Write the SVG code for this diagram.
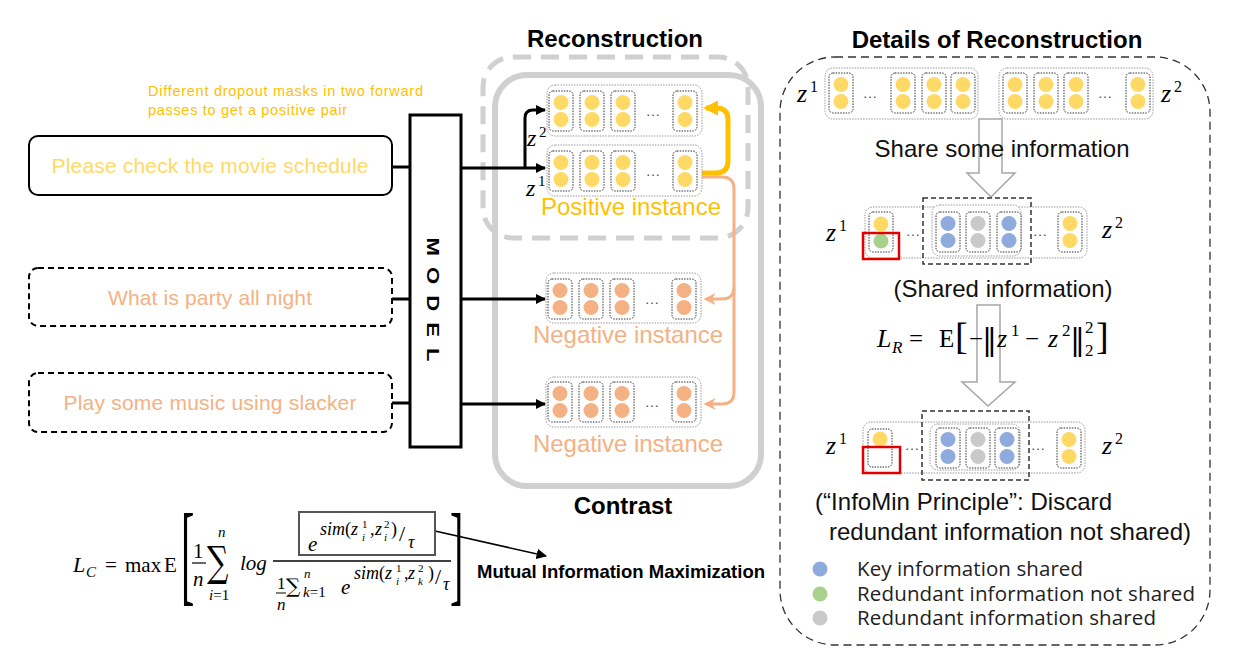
<svg xmlns="http://www.w3.org/2000/svg" xmlns:xlink="http://www.w3.org/1999/xlink" width="1240" height="670" viewBox="0 0 1240 670">
<style>
text{font-family:"Liberation Sans",Arial,sans-serif}
.m{font-family:"Liberation Serif","DejaVu Serif",serif;font-style:italic}
.r{font-family:"Liberation Serif","DejaVu Serif",serif;font-style:normal}
.dj{font-family:"DejaVu Serif",serif;font-style:normal}
.up{font-style:normal}
.b{font-weight:bold;fill:#000}
.cell{fill:#fff;stroke:#333;stroke-width:1;stroke-dasharray:1.5 1.2}
.row{fill:#fff;stroke:#999;stroke-width:1;stroke-dasharray:1.5 1.2}
.dash{fill:none;stroke:#333;stroke-width:1.5;stroke-dasharray:5 3}
.yc{fill:#FFD966}.oc{fill:#F4B183}.bc{fill:#8FAADC}.gc{fill:#C9C9C9}.grc{fill:#A9D18E}
.dots{font-size:15px;fill:#555;text-anchor:middle}
.conn{fill:none;stroke:#000;stroke-width:3}
.hollow{fill:#fff;stroke:#A6A6A6;stroke-width:1.5}
.red{fill:none;stroke:#E00000;stroke-width:2.5}
.rt{font-size:24px;fill:#111;text-anchor:middle}
.leg{font-family:"Open Sans","Noto Sans",sans-serif;font-size:20.5px;fill:#222}
</style>
<defs>
<marker id="ahB" viewBox="0 0 10 10" refX="9" refY="5" markerWidth="3.4" markerHeight="3.4" orient="auto"><path d="M0,0 L10,5 L0,10 z" fill="#000"/></marker>
<marker id="ahY" viewBox="0 0 10 10" refX="8" refY="5" markerWidth="3" markerHeight="3" orient="auto"><path d="M0,0 L10,5 L0,10 z" fill="#FFC000"/></marker>
<marker id="ahO" viewBox="0 0 10 10" refX="8" refY="5" markerWidth="4" markerHeight="4" orient="auto"><path d="M0,0 L10,5 L0,10 L3,5 z" fill="#F4B183"/></marker>
<marker id="ahT" viewBox="0 0 10 10" refX="9" refY="5" markerWidth="7" markerHeight="7" orient="auto"><path d="M0,0 L10,5 L0,10 z" fill="#000"/></marker>
<g id="cY"><rect class="cell" x="0" y="0" width="24" height="40" rx="4"/><circle class="yc" cx="12" cy="11.5" r="7.5"/><circle class="yc" cx="12" cy="28.5" r="7.5"/></g>
<g id="cO"><rect class="cell" x="0" y="0" width="24" height="40" rx="4"/><circle class="oc" cx="12" cy="11.5" r="7.5"/><circle class="oc" cx="12" cy="28.5" r="7.5"/></g>
<g id="cB"><rect class="cell" x="0" y="0" width="24" height="40" rx="4"/><circle class="bc" cx="12" cy="11.5" r="7.5"/><circle class="bc" cx="12" cy="28.5" r="7.5"/></g>
<g id="cG"><rect class="cell" x="0" y="0" width="24" height="40" rx="4"/><circle class="gc" cx="12" cy="11.5" r="7.5"/><circle class="gc" cx="12" cy="28.5" r="7.5"/></g>
</defs>
<rect width="1240" height="670" fill="#fff"/>

<!-- containers -->
<g id="contrast-box">
<rect x="495" y="75" width="266" height="411" rx="32" fill="none" stroke="#D0D0D0" stroke-width="6"/>
<text class="b" x="623" y="514" font-size="24" text-anchor="middle">Contrast</text>
</g>
<g id="reconstruction-box">
<rect x="483" y="57" width="265" height="181" rx="30" fill="none" stroke="#D0D0D0" stroke-width="5" stroke-dasharray="18 10"/>
<text class="b" x="615" y="47" font-size="24" text-anchor="middle">Reconstruction</text>
</g>

<!-- inputs -->
<g id="input1">
<rect x="29" y="136" width="363" height="59" rx="9" fill="#fff" stroke="#000" stroke-width="2"/>
<text x="210" y="173" font-size="21" fill="#FFD966" text-anchor="middle" textLength="317">Please check the movie schedule</text>
</g>
<g id="input2">
<rect x="29" y="268" width="363" height="58" rx="9" fill="#fff" stroke="#000" stroke-width="2" stroke-dasharray="6 4"/>
<text x="210" y="305" font-size="21" fill="#F4B183" text-anchor="middle" textLength="204">What is party all night</text>
</g>
<g id="input3">
<rect x="29" y="373" width="363" height="59" rx="9" fill="#fff" stroke="#000" stroke-width="2" stroke-dasharray="6 4"/>
<text x="210" y="410" font-size="21" fill="#F4B183" text-anchor="middle" textLength="293">Play some music using slacker</text>
</g>
<g id="dropout-note">
<text x="148" y="96" font-size="14.5" fill="#FFC000" textLength="275">Different dropout masks in two forward</text>
<text x="148" y="115" font-size="14.5" fill="#FFC000" textLength="199">passes to get a positive pair</text>
</g>

<!-- connectors -->
<g id="connectors">
<path class="conn" d="M392,167 H410"/>
<path class="conn" d="M392,299 H410"/>
<path class="conn" d="M392,403 H410"/>
<path class="conn" d="M461,168 H545" marker-end="url(#ahB)"/>
<path class="conn" d="M525,168 V118 Q525,110 533,110 H545" marker-end="url(#ahB)"/>
<path class="conn" d="M461,299 H545" marker-end="url(#ahB)"/>
<path class="conn" d="M461,404 H545" marker-end="url(#ahB)"/>
<path d="M702,173 H716 Q728,173 728,161 V119 Q728,108 716,108 H706" fill="none" stroke="#FFC000" stroke-width="5" marker-end="url(#ahY)"/>
<path d="M702,177 H722 Q734,177 734,189 V392 Q734,404 722,404 H706" fill="none" stroke="#F4B183" stroke-width="3" marker-end="url(#ahO)"/>
<path d="M734,287 Q734,299 722,299 H706" fill="none" stroke="#F4B183" stroke-width="3" marker-end="url(#ahO)"/>
<path d="M435,531 L546,556" fill="none" stroke="#000" stroke-width="1.5" marker-end="url(#ahT)"/>
</g>

<g id="model">
<rect x="410" y="115" width="51" height="332" fill="#fff" stroke="#000" stroke-width="3"/>
<text class="b" font-size="17" text-anchor="middle" letter-spacing="8.5" transform="translate(427,305) rotate(90) scale(1.3,1)">MODEL</text>
</g>

<!-- positive instance -->
<g id="z2-row">
<rect class="row" x="547" y="85" width="155" height="51" rx="8"/>
<use xlink:href="#cY" x="549" y="91"/><use xlink:href="#cY" x="580" y="91"/><use xlink:href="#cY" x="611" y="91"/><use xlink:href="#cY" x="673" y="91"/>
<text class="dots" x="653" y="116">…</text>
<text class="m" x="527" y="146" font-size="24">z</text><text class="r" x="539" y="137" font-size="15">2</text>
</g>
<g id="z1-row">
<rect class="row" x="547" y="145" width="155" height="51" rx="8"/>
<use xlink:href="#cY" x="549" y="151"/><use xlink:href="#cY" x="580" y="151"/><use xlink:href="#cY" x="611" y="151"/><use xlink:href="#cY" x="673" y="151"/>
<text class="dots" x="653" y="176">…</text>
<text class="m" x="526" y="196" font-size="24">z</text><text class="r" x="538" y="186" font-size="15">1</text>
<text x="631" y="215" font-size="24" fill="#FFC000" text-anchor="middle" textLength="180">Positive instance</text>
</g>
<g id="negative1">
<rect class="row" x="546" y="273" width="155" height="50" rx="8"/>
<use xlink:href="#cO" x="548" y="279"/><use xlink:href="#cO" x="579" y="279"/><use xlink:href="#cO" x="610" y="279"/><use xlink:href="#cO" x="672" y="279"/>
<text class="dots" x="652" y="304">…</text>
<text x="628" y="343" font-size="24" fill="#F4B183" text-anchor="middle" textLength="190">Negative instance</text>
</g>
<g id="negative2">
<rect class="row" x="546" y="377" width="155" height="50" rx="8"/>
<use xlink:href="#cO" x="548" y="382"/><use xlink:href="#cO" x="579" y="382"/><use xlink:href="#cO" x="610" y="382"/><use xlink:href="#cO" x="672" y="382"/>
<text class="dots" x="652" y="407">…</text>
<text x="628" y="452" font-size="24" fill="#F4B183" text-anchor="middle" textLength="190">Negative instance</text>
</g>

<!-- contrastive formula -->
<g id="formula-LC">
<text class="m" x="73" y="572" font-size="22">L</text><text class="m" x="86" y="577" font-size="15">C</text>
<text class="r" x="105" y="572" font-size="21">=</text>
<text class="r" x="125" y="572" font-size="21">max</text>
<text class="r" x="164" y="572" font-size="21">E</text>
<text class="r" font-size="40" transform="translate(181,591) scale(1,2.8)">[</text>
<text class="r" x="193" y="558" font-size="21">1</text>
<line x1="192" y1="563" x2="206" y2="563" stroke="#000" stroke-width="1.2"/>
<text class="m" x="193" y="586" font-size="21">n</text>
<text class="dj" font-size="30" transform="translate(207,576) scale(1,1.4)">∑</text>
<text class="m" x="218" y="537" font-size="15">n</text>
<text class="m" x="209" y="600" font-size="15">i<tspan class="up">=1</tspan></text>
<text class="m" x="240" y="570" font-size="21">log</text>
<line x1="273" y1="561" x2="451" y2="561" stroke="#000" stroke-width="1.3"/>
<rect x="299" y="512" width="136" height="43" fill="none" stroke="#555" stroke-width="2"/>
<text class="m" x="308" y="551" font-size="21">e</text>
<text class="m" font-size="18"><tspan x="320" y="535">sim</tspan><tspan class="up">(</tspan><tspan>z</tspan><tspan class="up" x="362" y="528" font-size="11">1</tspan><tspan x="362" y="541" font-size="11">i</tspan><tspan class="up" x="370" y="535">,</tspan><tspan x="375" y="535">z</tspan><tspan class="up" x="384" y="528" font-size="11">2</tspan><tspan x="384" y="541" font-size="11">i</tspan><tspan class="up" x="391" y="535">)</tspan><tspan class="up" x="399" y="541" font-size="22">/</tspan><tspan x="408" y="548">τ</tspan></text>
<text class="r" x="277" y="589" font-size="17">1</text>
<line x1="276" y1="593" x2="286" y2="593" stroke="#000" stroke-width="1"/>
<text class="m" x="277" y="610" font-size="17">n</text>
<text class="dj" x="286" y="593" font-size="20">∑</text>
<text class="m" x="304" y="578" font-size="13">n</text>
<text class="m" x="303" y="597" font-size="15">k<tspan class="up">=1</tspan></text>
<text class="m" x="341" y="594" font-size="21">e</text>
<text class="m" font-size="18"><tspan x="354" y="579">sim</tspan><tspan class="up">(</tspan><tspan>z</tspan><tspan class="up" x="396" y="572" font-size="11">1</tspan><tspan x="396" y="585" font-size="11">i</tspan><tspan class="up" x="404" y="579">,</tspan><tspan x="408" y="579">z</tspan><tspan class="up" x="418" y="572" font-size="11">2</tspan><tspan x="418" y="585" font-size="11">k</tspan><tspan class="up" x="428" y="579">)</tspan><tspan class="up" x="435" y="584" font-size="22">/</tspan><tspan x="443" y="590">τ</tspan></text>
<text class="r" font-size="40" transform="translate(450,591) scale(1,2.8)">]</text>
</g>
<g id="mi-label">
<text class="b" x="477" y="578" font-size="18.5" textLength="288">Mutual Information Maximization</text>
</g>

<!-- details panel -->
<g id="details-panel">
<rect x="780" y="57" width="430" height="588" rx="55" fill="none" stroke="#333" stroke-width="1.3" stroke-dasharray="8 5"/>
<text class="b" x="997" y="48" font-size="24" text-anchor="middle">Details of Reconstruction</text>
</g>
<g id="share-arrow">
<polygon class="hollow" points="979,119 1002,119 1002,173 1015,173 991,197 967,173 979,173"/>
</g>
<g id="top-rows">
<rect class="row" x="825" y="68" width="153" height="51" rx="8"/>
<use xlink:href="#cY" x="829" y="73"/><use xlink:href="#cY" x="891" y="73"/><use xlink:href="#cY" x="922" y="73"/><use xlink:href="#cY" x="951" y="73"/>
<text class="dots" x="870" y="98">…</text>
<text class="m" x="797" y="102" font-size="26">z</text><text class="r" x="810" y="92" font-size="16">1</text>
<rect class="row" x="999" y="68" width="154" height="51" rx="8"/>
<use xlink:href="#cY" x="1003" y="73"/><use xlink:href="#cY" x="1034" y="73"/><use xlink:href="#cY" x="1064" y="73"/><use xlink:href="#cY" x="1126" y="73"/>
<text class="dots" x="1105" y="98">…</text>
<text class="m" x="1161" y="102" font-size="26">z</text><text class="r" x="1174" y="92" font-size="16">2</text>
<text class="rt" x="1002" y="157" textLength="255">Share some information</text>
</g>
<g id="shared-row">
<rect class="row" x="865" y="207" width="222" height="51" rx="8"/>
<rect class="cell" x="869" y="212" width="24" height="40" rx="4"/>
<circle class="yc" cx="881" cy="224" r="7.5"/><circle class="grc" cx="881" cy="241" r="7.5"/>
<rect class="red" x="863" y="233" width="36" height="26"/>
<text class="dots" x="913" y="236">…</text>
<rect class="row" x="932" y="205" width="89" height="51" rx="8"/>
<use xlink:href="#cB" x="936" y="212"/><use xlink:href="#cG" x="966" y="212"/><use xlink:href="#cB" x="997" y="212"/>
<rect class="dash" x="923" y="198" width="108" height="66"/>
<text class="dots" x="1040" y="236">…</text>
<use xlink:href="#cY" x="1058" y="212"/>
<text class="m" x="826" y="241" font-size="26">z</text><text class="r" x="839" y="231" font-size="16">1</text>
<text class="m" x="1102" y="238" font-size="26">z</text><text class="r" x="1115" y="228" font-size="16">2</text>
<text class="rt" x="1003" y="297" textLength="219">(Shared information)</text>
</g>
<g id="infomin-arrow">
<polygon class="hollow" points="977,305 1000,305 1000,382 1015,382 988,406 962,382 977,382"/>
</g>
<g id="formula-LR">
<text class="m" x="877" y="347" font-size="26">L</text><text class="m" x="892" y="353" font-size="17">R</text>
<text class="r" x="909" y="347" font-size="25">=</text>
<text class="r" x="939" y="347" font-size="25">E</text>
<text class="r" x="955" y="349" font-size="38">[</text>
<text class="r" x="969" y="347" font-size="25">−</text>
<text class="dj" x="982" y="350" font-size="30">‖</text>
<text class="m" x="997" y="347" font-size="26">z</text><text class="r" x="1011" y="336" font-size="17">1</text>
<text class="r" x="1025" y="347" font-size="25">−</text>
<text class="m" x="1048" y="347" font-size="26">z</text><text class="r" x="1062" y="336" font-size="17">2</text>
<text class="dj" x="1070" y="350" font-size="30">‖</text>
<text class="r" x="1085" y="333" font-size="17">2</text><text class="r" x="1085" y="356" font-size="17">2</text>
<text class="r" x="1096" y="349" font-size="38">]</text>
</g>
<g id="infomin-row">
<rect class="row" x="863" y="422" width="222" height="51" rx="8"/>
<rect class="cell" x="868" y="429" width="24" height="38" rx="4"/>
<circle class="yc" cx="880" cy="439" r="7.5"/>
<rect class="red" x="863" y="447" width="37" height="26"/>
<text class="dots" x="912" y="450">…</text>
<rect class="row" x="930" y="424" width="90" height="46" rx="8"/>
<use xlink:href="#cB" x="936" y="428"/><use xlink:href="#cG" x="966" y="428"/><use xlink:href="#cB" x="995" y="428"/>
<rect class="dash" x="922" y="411" width="107" height="69"/>
<text class="dots" x="1038" y="450">…</text>
<use xlink:href="#cY" x="1057" y="428"/>
<text class="m" x="826" y="454" font-size="26">z</text><text class="r" x="839" y="444" font-size="16">1</text>
<text class="m" x="1102" y="454" font-size="26">z</text><text class="r" x="1115" y="444" font-size="16">2</text>
<text x="815" y="510" font-size="24" fill="#111" textLength="297">(“InfoMin Principle”: Discard</text>
<text x="829" y="540" font-size="24" fill="#111" textLength="362">redundant information not shared)</text>
</g>
<g id="legend">
<circle class="bc" cx="820" cy="569" r="7.5"/><text class="leg" x="857" y="576" textLength="226">Key information shared</text>
<circle class="grc" cx="820" cy="594" r="7.5"/><text class="leg" x="857" y="601" textLength="338">Redundant information not shared</text>
<circle class="gc" cx="820" cy="618" r="7.5"/><text class="leg" x="857" y="625" textLength="299">Redundant information shared</text>
</g>
</svg>
